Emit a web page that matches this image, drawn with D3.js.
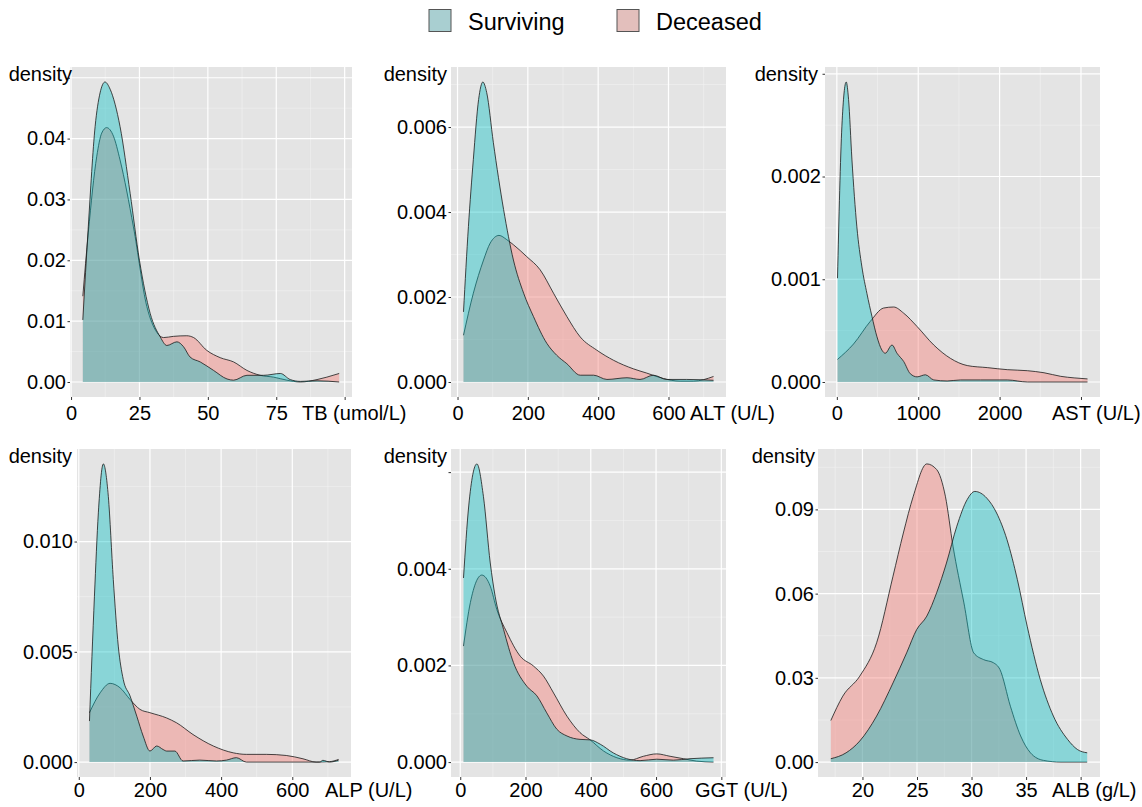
<!DOCTYPE html>
<html>
<head>
<meta charset="utf-8">
<script src="https://cdn.jsdelivr.net/npm/d3@7"></script>
<style>
  body { margin: 0; background: #fff; }
  text { font-family: "Liberation Sans", Arial, sans-serif; fill: #000; }
</style>
</head>
<body>
<div id="chart"></div>
<script>
// groups in the legend
const groups = ["Surviving", "Deceased"]

// density curves, [value, density]
const tbSurviving = [[4.3,0.0102],[6.3,0.0255],[8.8,0.042],[10.6,0.0475],[12.4,0.0493],[14.3,0.0481],[17.9,0.042],[21.6,0.031],[25,0.020],[28.9,0.0113],[32.6,0.0074],[35,0.0060],[38.7,0.0066],[41.1,0.0058],[43.5,0.0041],[47.2,0.0033],[52.1,0.0019],[57,0.0005],[59.4,0.0003],[64.3,0.0011],[70.4,0.0011],[76.5,0.0014],[80.1,0.0004],[83.8,0.0001],[89.9,0.0002],[98,0]]
const tbDeceased = [[4.3,0.0141],[6.3,0.0245],[9.4,0.0371],[11.2,0.0409],[13,0.0418],[15.5,0.0404],[17.9,0.0365],[22.8,0.0255],[27.7,0.0124],[31.3,0.0082],[33.8,0.0073],[37.4,0.0075],[42.3,0.0076],[44.8,0.0073],[49.6,0.0052],[54.5,0.0040],[59.4,0.0033],[64.3,0.0019],[69.1,0.0011],[74,0.0008],[78.9,0.0003],[83.8,0],[89.9,0.0004],[93.5,0.0008],[98,0.0014]]

const altSurviving = [[17,0.00165],[31,0.00366],[45,0.00524],[60,0.00665],[72,0.00706],[83,0.00681],[102,0.00563],[131,0.00406],[159,0.00287],[188,0.00209],[216,0.00154],[254,0.00091],[282,0.00063],[311,0.00043],[349,0.00016],[387,0.00016],[425,0.00006],[482,0.0001],[519,0.00006],[557,0.00016],[595,0.00006],[652,0.00006],[728,0.00004]]
const altDeceased = [[17,0.0011],[45,0.00209],[74,0.00287],[93,0.00327],[118,0.00345],[140,0.00335],[159,0.00323],[197,0.00295],[235,0.00264],[273,0.00209],[311,0.00154],[349,0.00106],[396,0.00075],[444,0.00051],[500,0.00031],[538,0.00021],[586,0.00008],[633,0.00002],[671,0.00002],[728,0.00013]]

const astSurviving = [[8,0.00101],[62,0.00249],[115,0.00292],[144,0.00275],[185,0.00217],[246,0.00151],[308,0.00112],[370,0.00086],[431,0.00064],[493,0.00044],[554,0.00031],[595,0.00028],[678,0.00036],[739,0.00028],[821,0.0002],[903,0.00008],[986,0.00005],[1088,0.00007],[1191,0.00002],[1355,0.00001],[1520,0.00002],[1766,0.00002],[2094,0.00002],[2341,0],[3080,0]]
const astDeceased = [[8,0.00022],[205,0.00037],[411,0.00059],[575,0.00072],[698,0.00073],[821,0.00067],[986,0.00054],[1191,0.00036],[1396,0.00023],[1602,0.00016],[1848,0.00014],[2094,0.00012],[2341,0.00011],[2546,0.00009],[2752,0.000055],[2916,0.00004],[3080,0.00003]]

const alpSurviving = [[30,0.00186],[44,0.00752],[55,0.0113],[69,0.01352],[83,0.01205],[97,0.00828],[111,0.00526],[125,0.00375],[144,0.003],[163,0.00208],[181,0.00118],[200,0.0005],[219,0.00073],[237,0.00057],[247,0.0005],[270,0.0005],[293,0.00005],[340,0.00009],[387,0.00005],[415,0.00009],[443,0.0002],[471,0],[677,0],[686,0.00008],[705,0],[730,0.00009]]
const alpDeceased = [[30,0.00224],[60,0.00314],[88,0.00357],[116,0.00337],[144,0.00284],[172,0.00239],[200,0.00224],[247,0.002],[275,0.00178],[321,0.00125],[378,0.00073],[434,0.00042],[471,0.00035],[527,0.00035],[583,0.0003],[630,0.00015],[667,0],[705,0.00002],[730,0.00012]]

const ggtSurviving = [[10,0.00381],[26,0.0053],[51,0.00617],[71,0.0055],[92,0.00412],[107,0.00343],[133,0.00274],[163,0.00206],[204,0.00157],[235,0.00137],[265,0.00102],[296,0.00068],[327,0.00054],[367,0.00047],[398,0.00046],[429,0.00037],[469,0.00019],[510,0.00007],[551,0.00003],[602,0.00006],[653,0.00004],[704,0.00007],[776,0.00009]]
const ggtDeceased = [[10,0.0024],[31,0.0033],[66,0.00387],[92,0.00364],[112,0.00316],[143,0.00268],[184,0.00219],[224,0.00199],[255,0.00178],[286,0.00143],[327,0.00095],[367,0.00061],[398,0.00046],[439,0.00023],[480,0.00009],[520,0.00004],[561,0.00012],[602,0.00017],[643,0.00012],[684,0.00007],[724,0.00002],[776,0]]

const albSurviving = [[17.1,0.0012],[18.5,0.0033],[19.75,0.0075],[21.3,0.0164],[22.8,0.0282],[24.05,0.0389],[24.97,0.0472],[25.9,0.052],[26.8,0.0603],[27.7,0.0709],[28.65,0.084],[29.6,0.0935],[30.3,0.0964],[31.4,0.094],[32.3,0.0887],[33.25,0.0792],[34.2,0.065],[35.1,0.0484],[36.3,0.0294],[37.5,0.0164],[38.8,0.0081],[39.7,0.0045],[40.6,0.0033]]
const albDeceased = [[17.1,0.0148],[18.2,0.0235],[19.75,0.0306],[21.3,0.0425],[22.8,0.0662],[23.75,0.0816],[24.66,0.0947],[25.9,0.1062],[26.8,0.1042],[27.6,0.0947],[28.3,0.0769],[29.3,0.0567],[30.2,0.0389],[31.1,0.0365],[32,0.0354],[32.6,0.033],[33.56,0.0199],[34.5,0.0093],[35.4,0.0033],[36.6,0.0006],[38.2,0],[40.6,0]]

// axis titles
const axisTitles = ["TB (umol/L)", "ALT (U/L)", "AST (U/L)", "ALP (U/L)", "GGT (U/L)", "ALB (g/L)"]

// ticks, top label is hidden under "density", last x label under the title
const xTicks = [[0,25,50,75,100],[0,200,400,600],[0,1000,2000,3000],[0,200,400,600],[0,200,400,600,800],[20,25,30,35,40]]
const xTickLabels = [["0","25","50","75",""],["0","200","400","600"],["0","1000","2000",""],["0","200","400","600"],["0","200","400","600",""],["20","25","30","35",""]]
const yTicks = [[0,0.01,0.02,0.03,0.04,0.05],[0,0.002,0.004,0.006],[0,0.001,0.002,0.003],[0,0.005,0.010],[0,0.002,0.004,0.006],[0,0.03,0.06,0.09]]
const yTickLabels = [["0.00","0.01","0.02","0.03","0.04",""],["0.000","0.002","0.004","0.006"],["0.000","0.001","0.002",""],["0.000","0.005","0.010"],["0.000","0.002","0.004",""],["0.00","0.03","0.06","0.09"]]

const surviving = [tbSurviving, altSurviving, astSurviving, alpSurviving, ggtSurviving, albSurviving]
const deceased = [tbDeceased, altDeceased, astDeceased, alpDeceased, ggtDeceased, albDeceased]

// panel boxes and label spots (px)
const layout = [
  { x: 70, y: 67, w: 282, h: 330, titleX: 302, densX: 72, xPad: 6 },
  { x: 451, y: 67, w: 275, h: 330, titleX: 690, densX: 447, xPad: 6 },
  { x: 825, y: 67, w: 275, h: 330, titleX: 1052, densX: 818, xPad: 6 },
  { x: 77, y: 449, w: 274, h: 328, titleX: 325, densX: 72, xPad: 3 },
  { x: 451, y: 449, w: 275, h: 328, titleX: 695, densX: 447, xPad: 3 },
  { x: 818, y: 449, w: 282, h: 328, titleX: 1052, densX: 815, xPad: 3 },
]

const width = 1142
const height = 807
const fontSize = 20
const colors = { Surviving: "#00BFC4", Deceased: "#F8766D" }
const keyColors = { Surviving: "#a9cfd1", Deceased: "#e3bfbc" }

const svg = d3
  .select("#chart")
  .append("svg")
  .attr("width", width)
  .attr("height", height)
  .attr("viewBox", [0, 0, width, height])

// minor grid sits half way between major ticks
function minors(ticks, domain) {
  const step = ticks[1] - ticks[0]
  const out = []
  for (let t = ticks[0] - step / 2; t <= domain[1]; t += step) {
    if (t >= domain[0]) out.push(t)
  }
  return out
}

function drawPanel(i) {
  const L = layout[i]
  const surv = surviving[i]
  const dec = deceased[i]

  // ggplot style 5% expansion
  const ext = d3.extent([...surv, ...dec], (d) => d[0])
  const xPadding = (ext[1] - ext[0]) * 0.05
  const yMax = d3.max([...surv, ...dec], (d) => d[1])

  const x = d3
    .scaleLinear()
    .domain([ext[0] - xPadding, ext[1] + xPadding])
    .range([0, L.w])
  const y = d3
    .scaleLinear()
    .domain([-yMax * 0.05, yMax * 1.05])
    .range([L.h, 0])

  const g = svg.append("g").attr("transform", `translate(${L.x},${L.y})`)

  g.append("rect").attr("width", L.w).attr("height", L.h).attr("fill", "#e4e4e4")

  // grid
  const xIn = xTicks[i].filter((t) => t >= x.domain()[0] && t <= x.domain()[1])
  const yIn = yTicks[i].filter((t) => t >= y.domain()[0] && t <= y.domain()[1])

  g.selectAll(".xminor")
    .data(minors(xTicks[i], x.domain()))
    .join("line")
    .attr("x1", (d) => x(d)).attr("x2", (d) => x(d))
    .attr("y1", 0).attr("y2", L.h)
    .attr("stroke", "#f2f2f2").attr("stroke-width", 0.6)
  g.selectAll(".yminor")
    .data(minors(yTicks[i], y.domain()))
    .join("line")
    .attr("y1", (d) => y(d)).attr("y2", (d) => y(d))
    .attr("x1", 0).attr("x2", L.w)
    .attr("stroke", "#f2f2f2").attr("stroke-width", 0.6)
  g.selectAll(".xmajor")
    .data(xIn)
    .join("line")
    .attr("x1", (d) => x(d)).attr("x2", (d) => x(d))
    .attr("y1", 0).attr("y2", L.h)
    .attr("stroke", "#fff").attr("stroke-width", 1.2)
  g.selectAll(".ymajor")
    .data(yIn)
    .join("line")
    .attr("y1", (d) => y(d)).attr("y2", (d) => y(d))
    .attr("x1", 0).attr("x2", L.w)
    .attr("stroke", "#fff").attr("stroke-width", 1.2)

  const area = d3
    .area()
    .x((d) => x(d[0]))
    .y0(y(0))
    .y1((d) => y(d[1]))
    .curve(d3.curveMonotoneX)
  const line = d3
    .line()
    .x((d) => x(d[0]))
    .y((d) => y(d[1]))
    .curve(d3.curveMonotoneX)

  // deceased underneath, surviving on top
  ;[["Deceased", dec], ["Surviving", surv]].forEach(([name, pts]) => {
    g.append("path")
      .datum(pts)
      .attr("d", area)
      .attr("fill", colors[name])
      .attr("fill-opacity", 0.4)
    g.append("path")
      .datum(pts)
      .attr("d", line)
      .attr("fill", "none")
      .attr("stroke", "#1a1a1a")
      .attr("stroke-width", 0.8)
  })

  // axes
  const xAxis = g
    .append("g")
    .attr("transform", `translate(0,${L.h})`)
    .call(
      d3.axisBottom(x)
        .tickValues(xIn)
        .tickFormat((d) => xTickLabels[i][xTicks[i].indexOf(d)])
        .tickSize(3)
        .tickPadding(L.xPad),
    )
  const yAxis = g.append("g").call(
    d3.axisLeft(y)
      .tickValues(yIn)
      .tickFormat((d) => yTickLabels[i][yTicks[i].indexOf(d)])
      .tickSize(2.5)
      .tickPadding(1.5),
  )
  ;[xAxis, yAxis].forEach((a) => {
    a.select(".domain").remove()
    a.selectAll("line").attr("stroke", "#333")
    a.selectAll("text").attr("font-size", fontSize).attr("fill", "#000")
      .style("font-family", '"Liberation Sans", Arial, sans-serif')
  })

  // "density" label in the top left corner
  svg.append("text")
    .attr("x", L.densX)
    .attr("y", L.y + 14)
    .attr("text-anchor", "end")
    .attr("font-size", fontSize)
    .text("density")

  // axis title sits on the tick label row
  svg.append("text")
    .attr("x", L.titleX)
    .attr("y", L.y + L.h + 3 + L.xPad + fontSize * 0.71)
    .attr("font-size", fontSize)
    .text(axisTitles[i])
}

d3.range(6).forEach(drawPanel)

// legend
const legendX = [429, 617]
groups.forEach((name, i) => {
  svg.append("rect")
    .attr("x", legendX[i]).attr("y", 9.5)
    .attr("width", 22).attr("height", 22)
    .attr("fill", keyColors[name])
    .attr("stroke", "#555").attr("stroke-width", 1)
  svg.append("text")
    .attr("x", legendX[i] + 39)
    .attr("y", 30)
    .attr("font-size", 23.5)
    .text(name)
})
</script>
</body>
</html>
